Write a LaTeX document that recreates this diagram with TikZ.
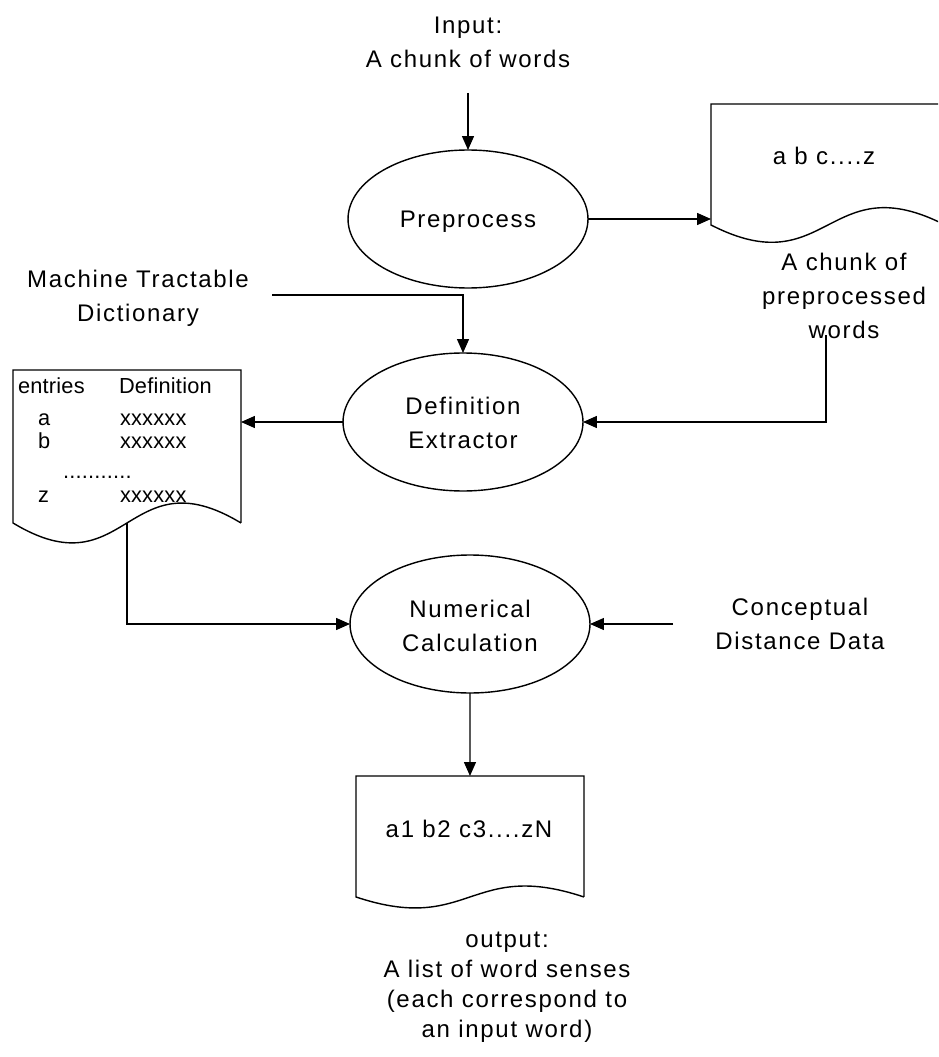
\documentclass[tikz,border=0pt]{standalone}
\usepackage{fontspec}
\setmainfont{Liberation Sans}[LetterSpace=7]
\newfontfamily\tablefont{Liberation Sans}[LetterSpace=1]
\usetikzlibrary{shapes.geometric,arrows.meta,calc}

\begin{document}
\begin{tikzpicture}[x=0.02cm,y=-0.02cm,
  every node/.style={inner sep=0pt, outer sep=0pt},
  lbl/.style={font=\fontsize{13.66pt}{19.4pt}\selectfont, align=center},
  proc/.style={ellipse, draw, line width=0.8pt, minimum width=4.8cm, minimum height=2.76cm, lbl},
  tbl/.style={font=\tablefont\fontsize{12.4pt}{14pt}\selectfont, anchor=base west},
  link/.style={line width=0.8pt},
  arr/.style={link, -{Triangle[length=0.28cm,width=0.24cm]}},
  docline/.style={line width=0.8pt},
]
\fill[white] (0,0) rectangle (938,1057);
\useasboundingbox (0,0) rectangle (938,1057);
\clip (0,0) rectangle (938,1057);

% process ellipses
\node[proc] (pre) at (468,219) {};
\node[lbl, anchor=base] (pretxt) at (468,228) {Preprocess};
\node[proc] (de) at (463,422) {};
\node[lbl] (detxt) at (463,423) {Definition\\Extractor};
\node[proc] (nc) at (470,624) {};
\node[lbl] (nctxt) at (470,626) {Numerical\\Calculation};

% free-standing labels
\node[lbl] (input) at (468,42) {Input:\\A chunk of words};
\node[lbl] (mtd) at (138,298) {Machine Tractable\\Dictionary};
\node[lbl] (cdd) at (800,624) {Conceptual\\Distance Data};
\node[lbl, font=\fontsize{13.66pt}{17pt}\selectfont] (out) at (507,987)
  {output:\\A list of word senses\\(each correspond to\\an input word)};

% document frames
\node[minimum width=4.68cm, minimum height=2.42cm, anchor=north west] (doc1) at (711,104) {};
\node[minimum width=4.56cm, minimum height=3.06cm, anchor=north west] (doc2) at (13,370) {};
\node[minimum width=4.56cm, minimum height=2.42cm, anchor=north west] (doc3) at (356,776) {};

\draw[docline] (doc1.south east) -- (doc1.north east) -- (doc1.north west) -- (doc1.south west)
  .. controls ($(doc1.south)+(0,60)$) and ($(doc1.south)+(0,-60)$) .. (doc1.south east);
\draw[docline] (doc2.south east) -- (doc2.north east) -- (doc2.north west) -- (doc2.south west)
  .. controls ($(doc2.south)+(0,69)$) and ($(doc2.south)+(0,-69)$) .. (doc2.south east);
\draw[docline] (doc3.south east) -- (doc3.north east) -- (doc3.north west) -- (doc3.south west)
  .. controls ($(doc3.south)+(0,38)$) and ($(doc3.south)+(0,-38)$) .. (doc3.south east);

% document contents
\node[lbl, anchor=base] (doc1txt) at (824,165) {a b c....z};
\node[lbl] (doc1lbl) at (844,296) {A chunk of\\preprocessed\\words};
\node[lbl, anchor=base] (doc3txt) at (469,837) {a1 b2 c3....zN};

\node[tbl] (hEnt) at (18,393) {entries};
\node[tbl] (hDef) at (119,393) {Definition};
\node[tbl] (rA) at (38,425) {a};
\node[tbl] (dA) at (120,425) {xxxxxx};
\node[tbl] (rB) at (38,448) {b};
\node[tbl] (dB) at (120,448) {xxxxxx};
\node[tbl] (rDots) at (63,478) {...........};
\node[tbl] (rZ) at (38,502) {z};
\node[tbl] (dZ) at (120,502) {xxxxxx};

% free ends of connectors
\coordinate (inFoot) at (468,93);
\coordinate (mtdEnd) at (272,295);
\coordinate (wordsFoot) at (826,335);
\coordinate (cddEnd) at (673,624);

% connectors
\draw[arr] (inFoot) -- (pre.north);
\draw[arr] (pre.east) -- (pre.east -| doc1.west);
\draw[arr] (mtdEnd) -| (de.north);
\draw[arr] (wordsFoot) |- (de.east);
\draw[arr] (de.west) -- (de.west -| doc2.east);
\draw[arr] (doc2.south) |- (nc.west);
\draw[arr] (cddEnd) -- (nc.east);
\draw[arr] (nc.south) -- (doc3.north);
\end{tikzpicture}
\end{document}
